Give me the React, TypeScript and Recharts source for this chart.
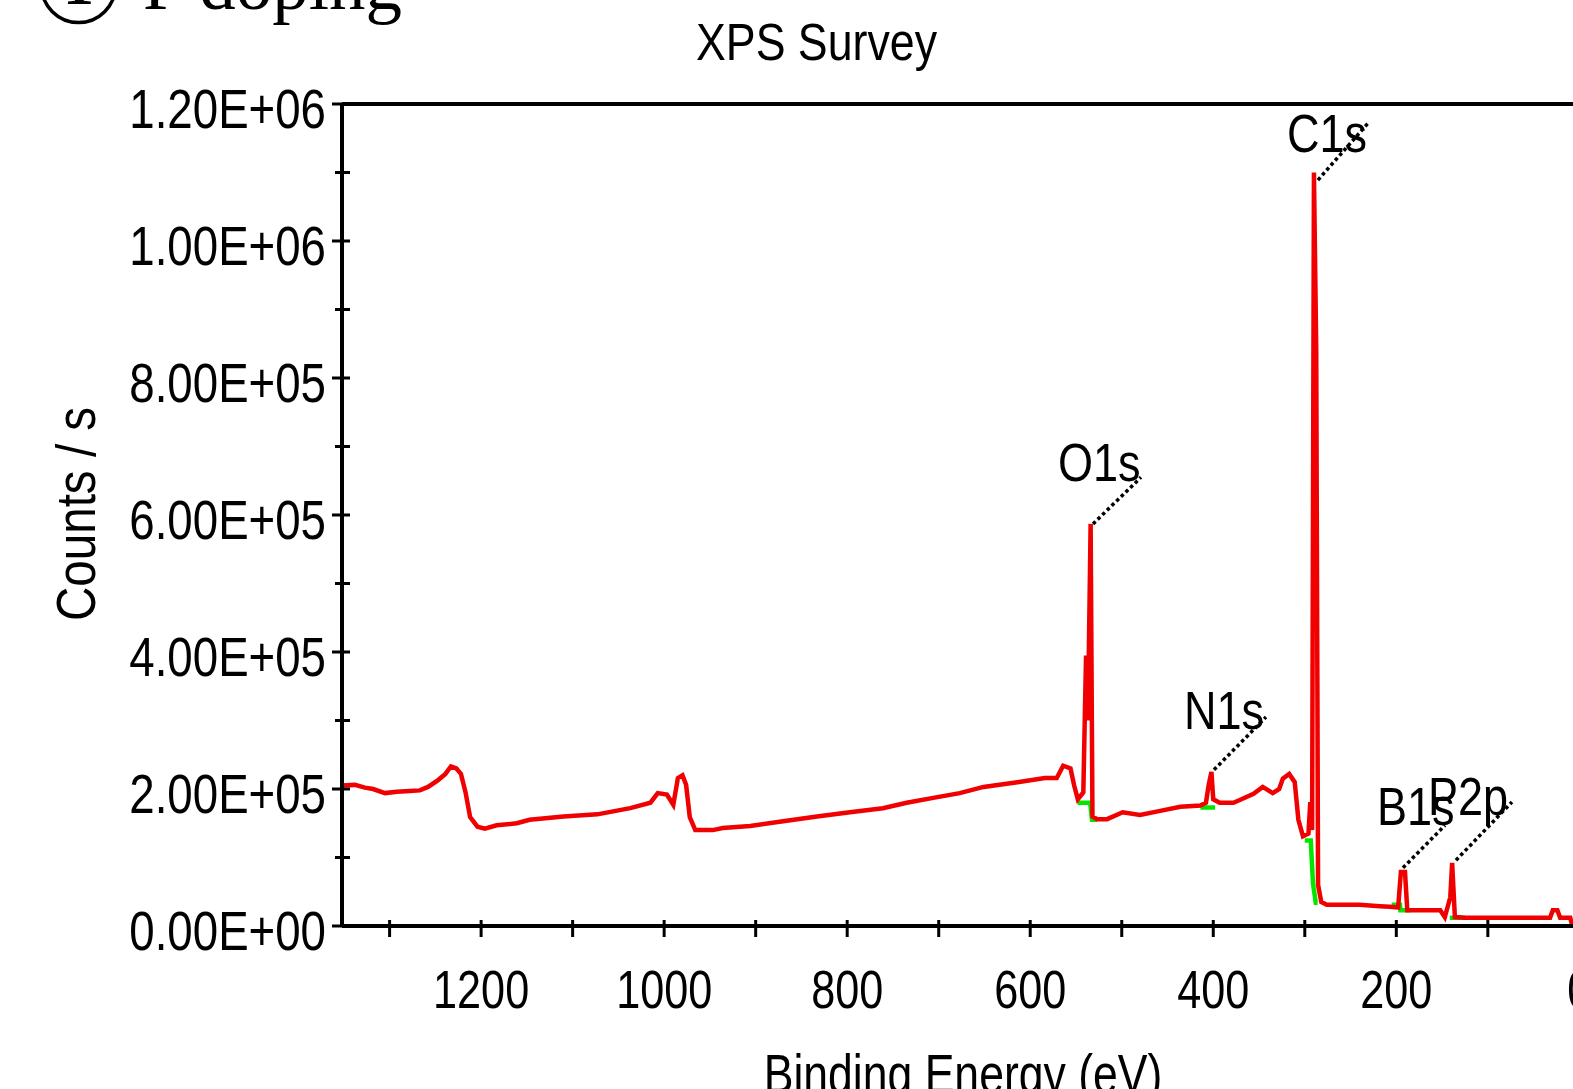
import { LineChart, Line, XAxis, YAxis, ReferenceLine, ReferenceDot } from 'recharts';

// survey spectrum (binding energy in eV, counts per second)
const surveyEnergy = [
  1352, 1338, 1327, 1318, 1305, 1292, 1278, 1267, 1258, 1247, 1239, 1233, 1227, 1222, 1217,
  1212, 1204, 1196, 1183, 1161, 1147, 1110, 1073, 1037, 1015, 1007, 997, 990, 985, 980, 976,
  972, 966, 947, 936, 906, 870, 833, 797, 761, 735, 706, 677, 651, 614, 584, 571, 564, 556,
  552, 548, 542, 539, 537, 534, 532, 527, 516, 499, 480, 458, 436, 414, 408, 405, 402, 400,
  393, 378, 371, 356, 346, 335, 328, 324, 317, 311, 307, 302, 296, 294, 292, 290, 287.5,
  285.5, 282, 276, 240, 218, 207, 198, 195, 190.5, 188, 152, 147, 141, 139, 136, 125, 32,
  29, 24, 21, 10, 8,
];
const surveyCounts = [
  205000, 206000, 202000, 200000, 194000, 196000, 197000, 198000, 203000, 213000, 222000,
  233000, 230000, 222000, 195000, 159000, 145000, 142000, 147000, 150000, 155000, 160000,
  163000, 172000, 180000, 194000, 192000, 177000, 216000, 220000, 206000, 159000, 140000,
  140000, 143000, 146000, 153000, 160000, 166000, 172000, 180000, 187000, 194000, 203000,
  210000, 216000, 216000, 234000, 230000, 205000, 185000, 195000, 395000, 300000, 587000,
  160000, 156000, 156000, 166000, 162000, 168000, 174000, 176000, 180000, 206000, 225000,
  185000, 180000, 180000, 184000, 193000, 203000, 194000, 200000, 215000, 222000, 210000,
  155000, 131000, 135000, 181000, 140000, 1100000, 842000, 60000, 35000, 31000, 31000,
  29000, 28000, 27000, 79000, 79000, 23000, 23000, 13000, 42000, 92000, 13000, 12000,
  12000, 23000, 23000, 12000, 12000, 2000,
];

// green background segments under the peaks
const bgO1sE = [548, 534.5, 532.5, 527];
const bgO1sC = [180000, 180000, 155000, 155000];
const bgN1sE = [414, 398];
const bgN1sC = [173000, 173000];
const bgC1sE = [300, 293.5, 291, 288, 286];
const bgC1sC = [125000, 125000, 62000, 34000, 34000];
const bgB1sE = [205, 196, 195.5, 185];
const bgB1sC = [31000, 31000, 23000, 23000];
const bgP2pE = [141.5, 125];
const bgP2pC = [12000, 12000];

// peak labels with leader lines
const peakNames = ['O1s', 'N1s', 'C1s', 'B1s', 'P2p'];
const peakE = [531.4, 399.2, 285.6, 192.7, 134.8];
const peakC = [587000, 228000, 1089000, 85000, 96000];
const tipE = [479, 342.4, 230.9, 146.8, 73.6];
const tipC = [655000, 305000, 1172000, 147000, 181000];
const nameE = [569.7, 432, 319.4, 221.1, 165.4];
const nameC = [650000, 288000, 1130000, 147000, 162000];

const xTicks = [0, 100, 200, 300, 400, 500, 600, 700, 800, 900, 1000, 1100, 1200, 1300];
const yTicks = [0, 100000, 200000, 300000, 400000, 500000, 600000, 700000, 800000, 900000, 1000000, 1100000, 1200000];

const zip = (e: number[], c: number[]) => e.map((ev, i) => ({ ev, counts: c[i] }));

const survey = zip(surveyEnergy, surveyCounts);
const backgrounds = [
  zip(bgO1sE, bgO1sC),
  zip(bgN1sE, bgN1sC),
  zip(bgC1sE, bgC1sC),
  zip(bgB1sE, bgB1sC),
  zip(bgP2pE, bgP2pC),
];

const SANS = 'Liberation Sans, Arial, sans-serif';

const sci = (v: number) => {
  const [m, e] = v.toExponential(2).split('e');
  const n = parseInt(e, 10);
  return `${m}E${n < 0 ? '-' : '+'}${String(Math.abs(n)).padStart(2, '0')}`;
};

function XTick(props: any) {
  const { x, y, payload } = props;
  const v = payload.value;
  return (
    <g>
      <line x1={x} x2={x} y1={y - 6} y2={y + 11} stroke="#000" strokeWidth={3} />
      {v % 200 === 0 && (
        <text
          transform={`translate(${x},${y + 82}) scale(0.8,1)`}
          textAnchor="middle"
          fontSize={54}
          fontFamily={SANS}
          fill="#000"
        >
          {v}
        </text>
      )}
    </g>
  );
}

function YTick(props: any) {
  const { x, y, payload } = props;
  const v = payload.value;
  const major = v % 200000 === 0;
  return (
    <g>
      <line x1={x - (major ? 10 : 7)} x2={x + 8} y1={y} y2={y} stroke="#000" strokeWidth={3} />
      {major && (
        <text
          transform={`translate(${x - 16},${y + 24}) scale(0.83,1)`}
          textAnchor="end"
          fontSize={55}
          fontFamily={SANS}
          fill="#000"
        >
          {sci(v)}
        </text>
      )}
    </g>
  );
}

const peakText = (name: string) => (p: any) => (
  <text
    transform={`translate(${p.cx},${p.cy}) scale(0.85,1)`}
    fontSize={53}
    fontFamily={SANS}
    fill="#000"
  >
    {name}
  </text>
);

export default function App() {
  return (
    <div
      style={{
        position: 'absolute',
        left: 0,
        top: 0,
        width: 1573,
        height: 1089,
        overflow: 'hidden',
        background: '#fff',
      }}
    >
      <LineChart
        width={1700}
        height={1089}
        margin={{ top: 104, right: 111.5, bottom: 0, left: 0 }}
      >
        <XAxis
          type="number"
          dataKey="ev"
          domain={[-10, 1352]}
          allowDataOverflow
          reversed
          ticks={xTicks}
          interval={0}
          height={163}
          tickSize={0}
          tickMargin={0}
          tickLine={false}
          tick={<XTick />}
          axisLine={{ stroke: '#000', strokeWidth: 4 }}
        />
        <YAxis
          type="number"
          domain={[0, 1200000]}
          allowDataOverflow
          ticks={yTicks}
          interval={0}
          width={342}
          tickSize={0}
          tickMargin={0}
          tickLine={false}
          tick={<YTick />}
          axisLine={{ stroke: '#000', strokeWidth: 4 }}
        />
        <ReferenceLine y={1200000} stroke="#000" strokeWidth={4} />
        {backgrounds.map((d, i) => (
          <Line
            key={`bg-${i}`}
            data={d}
            dataKey="counts"
            type="linear"
            stroke="#00e600"
            strokeWidth={4.5}
            dot={false}
            activeDot={false}
            isAnimationActive={false}
          />
        ))}
        <Line
          data={survey}
          dataKey="counts"
          type="linear"
          stroke="#f00000"
          strokeWidth={4.5}
          strokeLinejoin="miter"
          dot={false}
          activeDot={false}
          isAnimationActive={false}
        />
        {peakNames.map((n, i) => (
          <ReferenceLine
            key={`lead-${n}`}
            segment={[
              { x: peakE[i], y: peakC[i] },
              { x: tipE[i], y: tipC[i] },
            ]}
            stroke="#000"
            strokeWidth={3.5}
            strokeDasharray="3.5 3"
          />
        ))}
        {peakNames.map((n, i) => (
          <ReferenceDot
            key={`name-${n}`}
            x={nameE[i]}
            y={nameC[i]}
            r={0}
            shape={peakText(n)}
          />
        ))}
      </LineChart>
      <svg
        width={1573}
        height={1089}
        style={{ position: 'absolute', left: 0, top: 0, pointerEvents: 'none' }}
      >
        <circle cx={78.5} cy={-14.5} r={37} fill="none" stroke="#000" strokeWidth={3.5} />
        <text x={78.5} y={4} textAnchor="middle" fontSize={62} fontWeight="bold" fontFamily="Liberation Serif, Times New Roman, serif">
          1
        </text>
        <text x={143} y={9} fontSize={73} fontFamily="Liberation Serif, Times New Roman, serif">
          P doping
        </text>
        <text
          transform="translate(816.5,60) scale(0.86,1)"
          textAnchor="middle"
          fontSize={52}
          fontFamily={SANS}
        >
          XPS Survey
        </text>
        <text
          transform="translate(95,514) rotate(-90) scale(0.85,1)"
          textAnchor="middle"
          fontSize={56}
          fontFamily={SANS}
        >
          Counts / s
        </text>
        <text
          transform="translate(963,1093) scale(0.81,1)"
          textAnchor="middle"
          fontSize={55}
          fontFamily={SANS}
        >
          Binding Energy (eV)
        </text>
      </svg>
    </div>
  );
}
